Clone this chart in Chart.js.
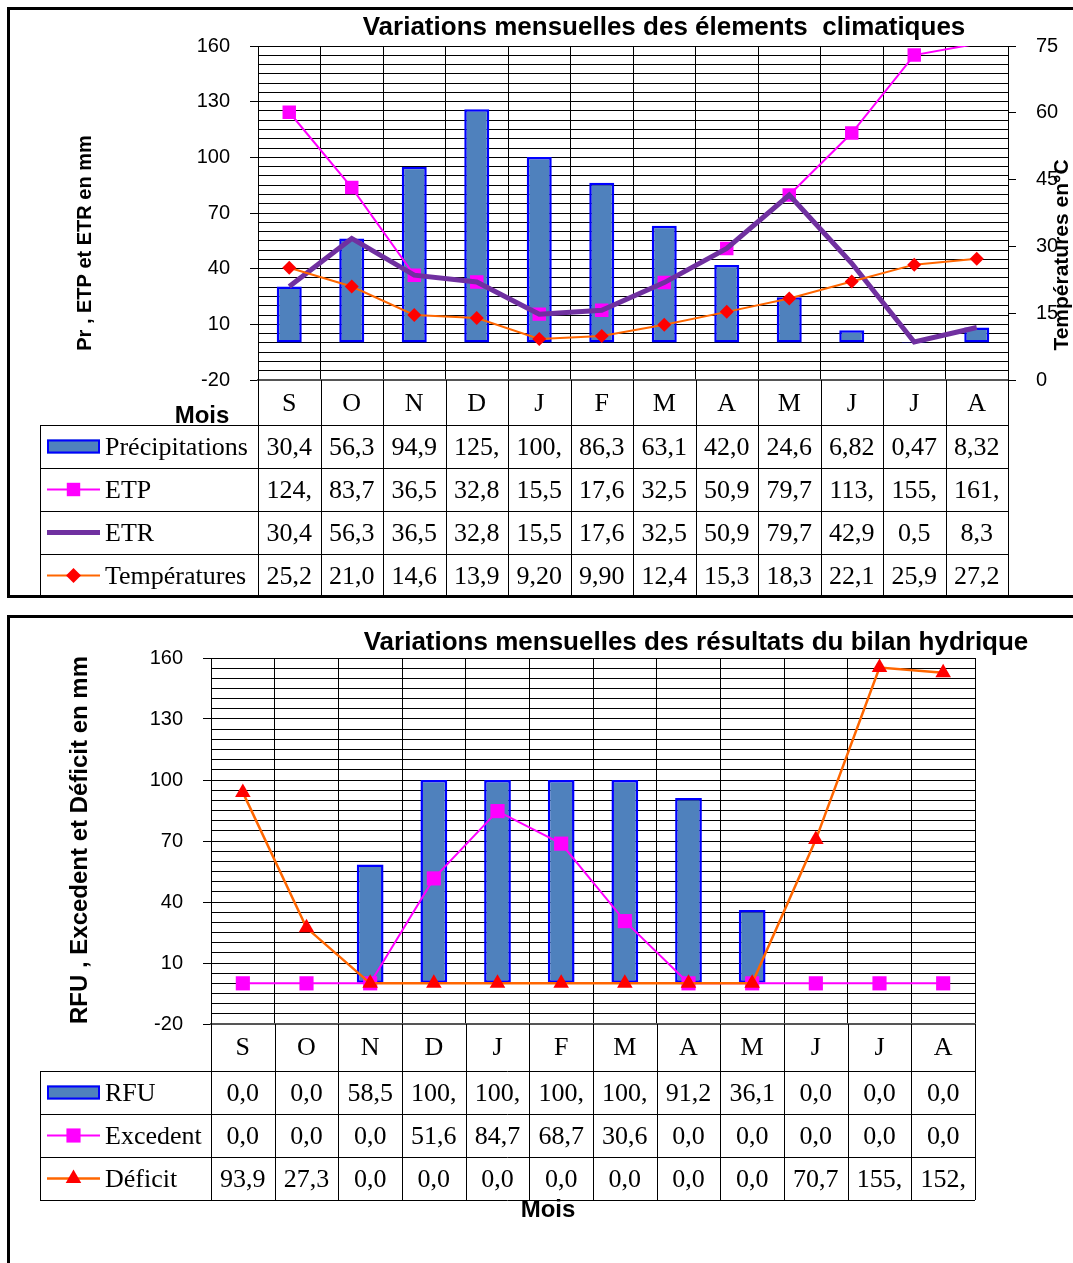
<!DOCTYPE html>
<html>
<head>
<meta charset="utf-8">
<script src="https://cdn.jsdelivr.net/npm/chart.js@4.4.1/dist/chart.umd.min.js"></script>
<style>
  body { margin: 0; background: #fff; width: 1073px; height: 1263px; overflow: hidden; position: relative; }
  .box { position: absolute; border: 3px solid #000; }
  #box1 { left: 7px; top: 7px; width: 1100px; height: 585px; }
  #box2 { left: 7px; top: 615px; width: 1100px; height: 700px; }
  canvas { position: absolute; left: 0; }
  #c1 { top: 0; }
  #c2 { top: 600px; }
</style>
</head>
<body>
<div class="box" id="box1"></div>
<div class="box" id="box2"></div>
<canvas id="c1" width="1073" height="600"></canvas>
<canvas id="c2" width="1073" height="663"></canvas>
<script>
Chart.defaults.font.family = '"Liberation Sans", Arial, sans-serif';
Chart.defaults.color = '#000';

const months = ['S', 'O', 'N', 'D', 'J', 'F', 'M', 'A', 'M', 'J', 'J', 'A'];

// climate elements (mm, temperatures in °C)
const precip = [30.4, 56.3, 94.9, 125.9, 100.2, 86.3, 63.1, 42.0, 24.6, 6.82, 0.47, 8.32];
const etp = [124.3, 83.7, 36.5, 32.8, 15.5, 17.6, 32.5, 50.9, 79.7, 113.1, 155.1, 161.2];
const etr = [30.4, 56.3, 36.5, 32.8, 15.5, 17.6, 32.5, 50.9, 79.7, 42.9, 0.5, 8.3];
const temp = [25.2, 21.0, 14.6, 13.9, 9.2, 9.9, 12.4, 15.3, 18.3, 22.1, 25.9, 27.2];

// water balance (mm)
const rfu = [0, 0, 58.5, 100, 100, 100, 100, 91.2, 36.1, 0, 0, 0];
const excedent = [0, 0, 0, 51.6, 84.7, 68.7, 30.6, 0, 0, 0, 0, 0];
const deficit = [93.9, 27.3, 0, 0, 0, 0, 0, 0, 0, 70.7, 155.3, 152.8];

const Y_MIN = -20;
const Y_MAX = 160;

// excel style cell text: comma decimal, cut to the column width
function fmt(v, dec) {
  return v.toFixed(dec).replace('.', ',').slice(0, 4);
}

function marker(ctx, style, x, y, r, color) {
  ctx.fillStyle = color;
  ctx.beginPath();
  if (style === 'rect') {
    const s = r * Math.SQRT1_2;
    ctx.rect(x - s, y - s, 2 * s, 2 * s);
  } else if (style === 'rectRot') {
    ctx.moveTo(x - r, y); ctx.lineTo(x, y - r); ctx.lineTo(x + r, y); ctx.lineTo(x, y + r);
  } else {
    ctx.moveTo(x, y - r); ctx.lineTo(x + r * 0.866, y + r / 2); ctx.lineTo(x - r * 0.866, y + r / 2);
  }
  ctx.closePath();
  ctx.fill();
}

// titles + data table under the plot
const decor = {
  id: 'decor',
  afterDraw(chart, args, o) {
    const { ctx, chartArea: a, scales: { x } } = chart;
    const n = chart.data.labels.length;
    const colW = (a.right - a.left) / n;
    const top = a.bottom + o.headH;
    const bottom = top + o.rows.length * o.rowH;
    ctx.save();
    ctx.fillStyle = '#000';
    ctx.textBaseline = 'middle';
    ctx.textAlign = 'center';
    ctx.font = 'bold 26px "Liberation Sans"';
    ctx.fillText(o.title, o.titleX, o.titleY);
    ctx.font = 'bold 24px "Liberation Sans"';
    ctx.fillText('Mois', o.moisX, o.moisY);
    o.sideTitles.forEach(t => {
      ctx.save();
      ctx.font = 'bold ' + t.size + 'px "Liberation Sans"';
      ctx.translate(t.x, t.y);
      ctx.rotate(-Math.PI / 2);
      ctx.fillText(t.text, 0, 0);
      ctx.restore();
    });

    ctx.strokeStyle = '#000';
    ctx.lineWidth = 1;
    ctx.beginPath();
    for (let i = 0; i <= n; i++) {
      const xx = Math.round(a.left + i * colW) + 0.5;
      ctx.moveTo(xx, a.bottom);
      ctx.lineTo(xx, bottom);
    }
    for (let r = 0; r <= o.rows.length; r++) {
      const yy = Math.round(top + r * o.rowH) + 0.5;
      ctx.moveTo(o.tableLeft, yy);
      ctx.lineTo(a.right, yy);
    }
    ctx.moveTo(o.tableLeft + 0.5, top);
    ctx.lineTo(o.tableLeft + 0.5, bottom);
    ctx.stroke();

    o.rows.forEach((row, r) => {
      const ds = chart.data.datasets[row.ds];
      const cy = top + r * o.rowH + o.rowH / 2;
      const kx = o.tableLeft + 7;
      if (ds.type === 'bar') {
        ctx.fillStyle = ds.backgroundColor;
        ctx.fillRect(kx, cy - 7, 53, 14);
        ctx.strokeStyle = ds.borderColor;
        ctx.lineWidth = 2;
        ctx.strokeRect(kx + 1, cy - 6, 51, 12);
      } else {
        ctx.strokeStyle = ds.borderColor;
        ctx.lineWidth = ds.borderWidth;
        ctx.beginPath();
        ctx.moveTo(kx, cy);
        ctx.lineTo(kx + 53, cy);
        ctx.stroke();
        if (row.marker) marker(ctx, ds.pointStyle, kx + 26.5, cy, row.marker, ds.backgroundColor);
      }
      ctx.fillStyle = '#000';
      ctx.font = '26px "Liberation Serif"';
      ctx.textAlign = 'left';
      ctx.fillText(ds.label, o.tableLeft + 65, cy + 2);
      ctx.textAlign = 'center';
      ds.data.forEach((v, i) => ctx.fillText(fmt(v, row.dec), x.getPixelForValue(i), cy + 2));
    });
    ctx.restore();
  }
};

function major(v) {
  return (Math.round(v) - Y_MIN) % 30 === 0;
}

// excel hides a marker whose value is off the axis
function inRange(r) {
  return c => (c.raw > Y_MAX ? 0 : r);
}

function yScale(width) {
  return {
    min: Y_MIN, max: Y_MAX,
    ticks: { stepSize: 5, autoSkip: false, padding: 20, font: { size: 20 }, callback: v => (major(v) ? v : '') },
    grid: { color: '#000', tickLength: 8, tickColor: c => (major(c.tick.value) ? '#000' : 'rgba(0,0,0,0)') },
    border: { color: '#000' },
    afterFit: s => { s.width = width; }
  };
}

function xScale(height) {
  return {
    offset: true,
    grid: { color: '#000', drawTicks: false, offset: true },
    border: { color: '#555', width: 2 },
    ticks: { font: { family: '"Liberation Serif"', size: 26 }, padding: 9 },
    afterFit: s => { s.height = height; }
  };
}

new Chart(document.getElementById('c1'), {
  type: 'bar',
  data: {
    labels: months,
    datasets: [
      { type: 'bar', label: 'Précipitations', data: precip, backgroundColor: '#4F81BD', borderColor: '#0000FF',
        borderWidth: 2.5, borderSkipped: false, barPercentage: 0.4, categoryPercentage: 1, order: 4 },
      { type: 'line', label: 'ETP', data: etp, borderColor: '#FF00FF', backgroundColor: '#FF00FF',
        borderWidth: 2, pointStyle: 'rect', pointRadius: inRange(9.5), pointBorderWidth: 0, order: 3 },
      { type: 'line', label: 'ETR', data: etr, borderColor: '#7030A0', backgroundColor: '#7030A0',
        borderWidth: 5, pointRadius: 0, order: 2 },
      { type: 'line', label: 'Températures', data: temp, yAxisID: 'y1', borderColor: '#FF6600', backgroundColor: '#FF0000',
        borderWidth: 2, pointStyle: 'rectRot', pointRadius: 7, pointBorderWidth: 0, order: 1 }
    ]
  },
  options: {
    responsive: false,
    animation: false,
    layout: { padding: { top: 46, left: 0, right: 0, bottom: 3 } },
    plugins: {
      legend: { display: false },
      tooltip: { enabled: false },
      decor: {
        title: 'Variations mensuelles des élements  climatiques', titleX: 664, titleY: 28,
        moisX: 202, moisY: 416,
        sideTitles: [
          { text: 'Pr , ETP et ETR en mm', x: 85, y: 243, size: 20 },
          { text: 'Températures en°C', x: 1062, y: 255, size: 21 }
        ],
        tableLeft: 40, headH: 45, rowH: 43,
        rows: [{ ds: 0, dec: 2 }, { ds: 1, dec: 2, marker: 9.5 }, { ds: 2, dec: 1 }, { ds: 3, dec: 2, marker: 7.5 }]
      }
    },
    scales: {
      x: xScale(45 + 4 * 43),
      y: yScale(258),
      y1: {
        position: 'right', min: 0, max: 75,
        ticks: { stepSize: 15, padding: 20, font: { size: 20 } },
        grid: { drawOnChartArea: false, tickLength: 8, color: '#000' },
        border: { color: '#000' },
        afterFit: s => { s.width = 65; }
      }
    }
  },
  plugins: [decor]
});

new Chart(document.getElementById('c2'), {
  type: 'bar',
  data: {
    labels: months,
    datasets: [
      { type: 'bar', label: 'RFU', data: rfu, backgroundColor: '#4F81BD', borderColor: '#0000FF',
        borderWidth: 2.5, borderSkipped: false, barPercentage: 0.42, categoryPercentage: 1, order: 3 },
      { type: 'line', label: 'Excedent', data: excedent, borderColor: '#FF00FF', backgroundColor: '#FF00FF',
        borderWidth: 2, pointStyle: 'rect', pointRadius: inRange(10), pointBorderWidth: 0, order: 2 },
      { type: 'line', label: 'Déficit', data: deficit, borderColor: '#FF6600', backgroundColor: '#FF0000',
        borderWidth: 2.5, pointStyle: 'triangle', pointRadius: inRange(9), pointBorderWidth: 0, order: 1 }
    ]
  },
  options: {
    responsive: false,
    animation: false,
    layout: { padding: { top: 58, left: 0, right: 98, bottom: 63 } },
    plugins: {
      legend: { display: false },
      tooltip: { enabled: false },
      decor: {
        title: 'Variations mensuelles des résultats du bilan hydrique', titleX: 696, titleY: 43,
        moisX: 548, moisY: 610,
        sideTitles: [
          { text: 'RFU , Excedent et Déficit en mm', x: 80, y: 240, size: 24 }
        ],
        tableLeft: 40, headH: 47, rowH: 43,
        rows: [{ ds: 0, dec: 1 }, { ds: 1, dec: 1, marker: 10 }, { ds: 2, dec: 1, marker: 9 }]
      }
    },
    scales: {
      x: xScale(47 + 3 * 43),
      y: yScale(211)
    }
  },
  plugins: [decor]
});
</script>
</body>
</html>
